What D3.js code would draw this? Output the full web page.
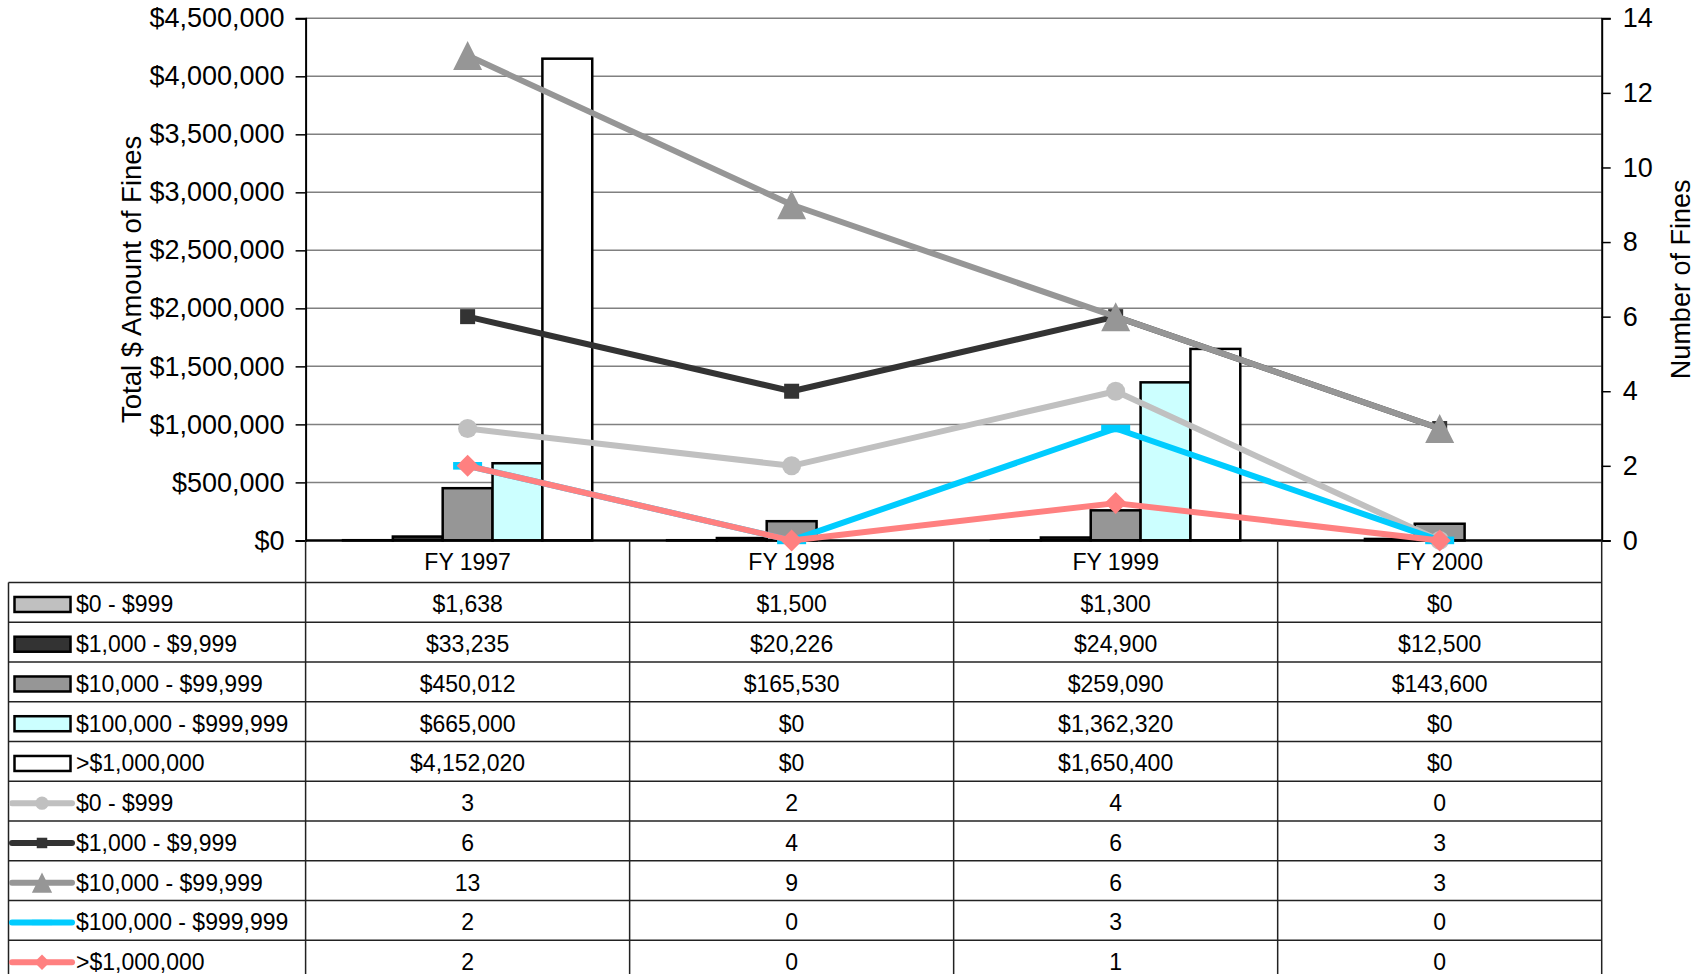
<!DOCTYPE html>
<html>
<head>
<meta charset="utf-8">
<script src="https://cdn.jsdelivr.net/npm/d3@7/dist/d3.min.js"></script>
<style>
body { margin: 0; background: #fff; }
text { font-family: "Liberation Sans", Arial, sans-serif; fill: #000; }
</style>
</head>
<body>
<div class="chart"></div>
<script>
var width = 1705, height = 974;

var categories = ["FY 1997", "FY 1998", "FY 1999", "FY 2000"];
var seriesNames = ["$0 - $999", "$1,000 - $9,999", "$10,000 - $99,999", "$100,000 - $999,999", ">$1,000,000"];

// total $ amount of fines per range (bars, left axis)
var amount0 = [1638, 1500, 1300, 0];
var amount1 = [33235, 20226, 24900, 12500];
var amount2 = [450012, 165530, 259090, 143600];
var amount3 = [665000, 0, 1362320, 0];
var amount4 = [4152020, 0, 1650400, 0];

// number of fines per range (lines, right axis)
var count0 = [3, 2, 4, 0];
var count1 = [6, 4, 6, 3];
var count2 = [13, 9, 6, 3];
var count3 = [2, 0, 3, 0];
var count4 = [2, 0, 1, 0];

var amountTicks = [0, 500000, 1000000, 1500000, 2000000, 2500000, 3000000, 3500000, 4000000, 4500000];
var countTicks = [0, 2, 4, 6, 8, 10, 12, 14];

var amounts = [amount0, amount1, amount2, amount3, amount4];
var counts = [count0, count1, count2, count3, count4];

var barColors = ["#c0c0c0", "#333333", "#969696", "#ccffff", "#ffffff"];
var lineColors = ["#c0c0c0", "#333333", "#969696", "#00ccff", "#ff8080"];
var markerTypes = ["circle", "square", "triangle", "dash", "diamond"];

var plot = { left: 305.6, right: 1601.7, top: 18.3, bottom: 540.4 };
var table = { left: 8.5, top: 582.6, rowH: 39.75 };

var svg = d3.select('.chart')
	.append('svg')
	.attr('width', width)
	.attr('height', height);

var x = d3.scaleBand().domain(categories).range([plot.left, plot.right]);
var xs = d3.scaleBand().domain(d3.range(5)).range([0, x.bandwidth()]).paddingOuter(0.75);
var yL = d3.scaleLinear().domain([0, 4500000]).range([plot.bottom, plot.top]);
var yR = d3.scaleLinear().domain([0, 14]).range([plot.bottom, plot.top]);
var money = d3.format("$,");

// gridlines
svg.append('g')
	.selectAll('line')
	.data(amountTicks.slice(1))
	.enter().append('line')
	.attr('x1', plot.left).attr('x2', plot.right)
	.attr('y1', function(d) { return yL(d); })
	.attr('y2', function(d) { return yL(d); })
	.attr('stroke', '#808080')
	.attr('stroke-width', 1.5);

// bars
var barData = [];
amounts.forEach(function(s, i) {
	s.forEach(function(v, j) { barData.push({ s: i, cat: categories[j], v: v }); });
});

svg.append('g')
	.selectAll('rect')
	.data(barData)
	.enter().append('rect')
	.attr('x', function(d) { return x(d.cat) + xs(d.s); })
	.attr('width', xs.bandwidth())
	.attr('y', function(d) { return yL(d.v); })
	.attr('height', function(d) { return yL(0) - yL(d.v); })
	.attr('fill', function(d) { return barColors[d.s]; })
	.attr('stroke', '#000')
	.attr('stroke-width', 2.5);

// axes
var axisL = svg.append('g')
	.attr('transform', 'translate(' + plot.left + ',0)')
	.call(d3.axisLeft(yL).tickValues(amountTicks).tickFormat(money).tickSize(10).tickPadding(11));

var axisR = svg.append('g')
	.attr('transform', 'translate(' + plot.right + ',0)')
	.call(d3.axisRight(yR).tickValues(countTicks).tickSize(9).tickPadding(12));

[axisL, axisR].forEach(function(a) {
	a.attr('font-family', null).attr('font-size', 27);
	a.select('.domain').attr('stroke', '#000').attr('stroke-width', 2);
	a.selectAll('.tick line').attr('stroke', '#000').attr('stroke-width', 1.5);
	a.selectAll('.tick text').attr('fill', '#000');
});

svg.append('line')
	.attr('x1', plot.left).attr('x2', plot.right)
	.attr('y1', plot.bottom).attr('y2', plot.bottom)
	.attr('stroke', '#000').attr('stroke-width', 2.5);

svg.append('text')
	.attr('transform', 'translate(141,' + (plot.top + plot.bottom) / 2 + ') rotate(-90)')
	.attr('text-anchor', 'middle')
	.attr('font-size', 27.5)
	.text('Total $ Amount of Fines');

svg.append('text')
	.attr('transform', 'translate(1690,' + (plot.top + plot.bottom) / 2 + ') rotate(-90)')
	.attr('text-anchor', 'middle')
	.attr('font-size', 27)
	.text('Number of Fines');

// markers
function marker(sel, type, color, k) {
	k = k || 1;
	if (type == 'circle') {
		sel.append('circle').attr('r', 9.5 * k).attr('fill', color);
	} else if (type == 'square') {
		sel.append('rect').attr('x', -7.5 * k).attr('y', -7.5 * k).attr('width', 15 * k).attr('height', 15 * k).attr('fill', color);
	} else if (type == 'triangle') {
		sel.append('path').attr('d', 'M0,-14.5L14.5,14.5L-14.5,14.5Z').attr('transform', 'scale(' + k + ')').attr('fill', color);
	} else if (type == 'dash') {
		sel.append('rect').attr('x', -14.5 * k).attr('y', -3.8 * k).attr('width', 29 * k).attr('height', 7.6 * k).attr('fill', color);
	} else {
		sel.append('path').attr('d', 'M0,-11L11,0L0,11L-11,0Z').attr('transform', 'scale(' + k + ')').attr('fill', color);
	}
}

var line = d3.line()
	.x(function(d, j) { return x(categories[j]) + x.bandwidth() / 2; })
	.y(function(d) { return yR(d); });

counts.forEach(function(s, i) {
	var g = svg.append('g');
	g.append('path')
		.attr('d', line(s))
		.attr('fill', 'none')
		.attr('stroke', lineColors[i])
		.attr('stroke-width', 6)
		.attr('stroke-linejoin', 'round');
	s.forEach(function(v, j) {
		var m = g.append('g')
			.attr('transform', 'translate(' + (x(categories[j]) + x.bandwidth() / 2) + ',' + yR(v) + ')');
		marker(m, markerTypes[i], lineColors[i]);
	});
});

// data table
var rows = [];
amounts.forEach(function(s, i) { rows.push({ kind: 'bar', s: i, vals: s.map(money) }); });
counts.forEach(function(s, i) { rows.push({ kind: 'line', s: i, vals: s.map(String) }); });

var tg = svg.append('g');
var lineColor = '#222';

// header cells
tg.selectAll('.hdr')
	.data(categories)
	.enter().append('text')
	.attr('class', 'hdr')
	.attr('x', function(d) { return x(d) + x.bandwidth() / 2; })
	.attr('y', (plot.bottom + table.top) / 2 + 8)
	.attr('text-anchor', 'middle')
	.attr('font-size', 23)
	.text(function(d) { return d; });

var cols = [plot.left].concat(categories.map(function(c) { return x(c) + x.bandwidth(); }));
tg.selectAll('.vline')
	.data(cols)
	.enter().append('line')
	.attr('x1', function(d) { return d; }).attr('x2', function(d) { return d; })
	.attr('y1', plot.bottom).attr('y2', height)
	.attr('stroke', lineColor).attr('stroke-width', 1.5);

tg.append('line')
	.attr('x1', table.left).attr('x2', table.left)
	.attr('y1', table.top).attr('y2', height)
	.attr('stroke', lineColor).attr('stroke-width', 1.5);

tg.selectAll('.hline')
	.data(d3.range(rows.length + 1))
	.enter().append('line')
	.attr('x1', table.left).attr('x2', plot.right)
	.attr('y1', function(d) { return table.top + d * table.rowH; })
	.attr('y2', function(d) { return table.top + d * table.rowH; })
	.attr('stroke', lineColor).attr('stroke-width', 1.5);

var row = tg.selectAll('.row')
	.data(rows)
	.enter().append('g')
	.attr('class', 'row')
	.attr('transform', function(d, i) { return 'translate(0,' + (table.top + i * table.rowH + table.rowH / 2 + 2) + ')'; });

row.append('text')
	.attr('x', 76)
	.attr('y', 8)
	.attr('font-size', 23)
	.text(function(d) { return seriesNames[d.s]; });

row.each(function(d) {
	var r = d3.select(this);
	if (d.kind == 'bar') {
		r.append('rect')
			.attr('x', 14.5).attr('y', -7.5).attr('width', 56).attr('height', 15)
			.attr('fill', barColors[d.s]).attr('stroke', '#000').attr('stroke-width', 2.5);
	} else {
		r.append('line')
			.attr('x1', 12).attr('x2', 72).attr('y1', 0).attr('y2', 0)
			.attr('stroke', lineColors[d.s]).attr('stroke-width', 6).attr('stroke-linecap', 'round');
		var m = r.append('g').attr('transform', 'translate(42,0)');
		marker(m, markerTypes[d.s], lineColors[d.s], 0.7);
	}
	r.selectAll('.val')
		.data(d.vals)
		.enter().append('text')
		.attr('class', 'val')
		.attr('x', function(v, j) { return x(categories[j]) + x.bandwidth() / 2; })
		.attr('y', 8)
		.attr('text-anchor', 'middle')
		.attr('font-size', 23)
		.text(function(v) { return v; });
});
</script>
</body>
</html>
